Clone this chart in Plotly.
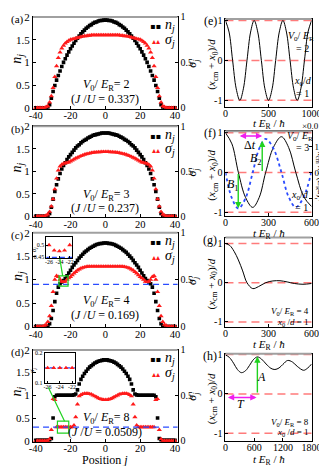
import plotly.graph_objects as go

W, H = 327, 466
FONT = "Liberation Serif, Times New Roman, serif"
SYM_FONT = "DejaVu Sans"
RED = "#ff1a1a"
DASH_RED = "#ff7b7b"
BLUE = "#2a4bff"
GREEN = "#1fd21f"
MAGENTA = "#f01df0"
GRAY = "#a0a0a0"

# lattice sites j = -40 .. 40
J = list(range(-40, 41))

# (a) V0/ER = 2
N_A = [0, 0, 0, 0, 0, 0, 0, 0.01, 0.07, 0.21,
       0.36, 0.49, 0.61, 0.71, 0.81, 0.91, 1.00, 1.08, 1.16, 1.23,
       1.30, 1.36, 1.42, 1.48, 1.53, 1.58, 1.63, 1.67, 1.71, 1.75,
       1.78, 1.81, 1.83, 1.86, 1.88, 1.89, 1.91, 1.92, 1.92, 1.93,
       1.93,
       1.93, 1.92, 1.92, 1.91, 1.89, 1.88, 1.86, 1.83, 1.81, 1.78,
       1.75, 1.71, 1.67, 1.63, 1.58, 1.53, 1.48, 1.42, 1.36, 1.30,
       1.23, 1.16, 1.08, 1.00, 0.91, 0.81, 0.71, 0.61, 0.49, 0.36,
       0.21, 0.07, 0.01, 0, 0, 0, 0, 0, 0, 0]
S_A = [0, 0, 0, 0, 0, 0, 0.01, 0.02, 0.06, 0.13,
       0.22, 0.34, 0.46, 0.55, 0.61, 0.655, 0.685, 0.71, 0.725, 0.74,
       0.75, 0.755, 0.76, 0.765, 0.77, 0.775, 0.78, 0.785, 0.79, 0.79,
       0.795, 0.795, 0.80, 0.80, 0.80, 0.80, 0.80, 0.80, 0.80, 0.80,
       0.80,
       0.80, 0.80, 0.80, 0.80, 0.80, 0.80, 0.80, 0.80, 0.795, 0.795,
       0.79, 0.79, 0.785, 0.78, 0.775, 0.77, 0.765, 0.76, 0.755, 0.75,
       0.74, 0.725, 0.71, 0.685, 0.655, 0.61, 0.55, 0.46, 0.34, 0.22,
       0.13, 0.06, 0.02, 0.01, 0, 0, 0, 0, 0, 0]

# (b) V0/ER = 3
N_B = [0, 0, 0, 0, 0, 0, 0, 0.01, 0.06, 0.20,
       0.38, 0.55, 0.70, 0.83, 0.95, 1.05, 1.13, 1.19, 1.26, 1.32,
       1.37, 1.42, 1.47, 1.52, 1.56, 1.59, 1.63, 1.66, 1.69, 1.71,
       1.74, 1.76, 1.78, 1.80, 1.81, 1.82, 1.83, 1.84, 1.85, 1.85,
       1.85,
       1.85, 1.85, 1.84, 1.83, 1.82, 1.81, 1.80, 1.78, 1.76, 1.74,
       1.71, 1.69, 1.66, 1.63, 1.59, 1.56, 1.52, 1.47, 1.42, 1.37,
       1.32, 1.26, 1.19, 1.13, 1.05, 0.95, 0.83, 0.70, 0.55, 0.38,
       0.20, 0.06, 0.01, 0, 0, 0, 0, 0, 0, 0]
S_B = [0, 0, 0, 0, 0, 0, 0.01, 0.02, 0.05, 0.11,
       0.19, 0.30, 0.42, 0.51, 0.555, 0.575, 0.585, 0.59, 0.595, 0.60,
       0.61, 0.62, 0.632, 0.643, 0.653, 0.662, 0.67, 0.678, 0.685, 0.69,
       0.695, 0.70, 0.704, 0.707, 0.71, 0.712, 0.713, 0.714, 0.715, 0.715,
       0.715,
       0.715, 0.715, 0.714, 0.713, 0.712, 0.71, 0.707, 0.704, 0.70, 0.695,
       0.69, 0.685, 0.678, 0.67, 0.662, 0.653, 0.643, 0.632, 0.62, 0.61,
       0.60, 0.595, 0.59, 0.585, 0.575, 0.555, 0.51, 0.42, 0.30, 0.19,
       0.11, 0.05, 0.02, 0.01, 0, 0, 0, 0, 0, 0]

# (c) V0/ER = 4
N_C = [0, 0, 0, 0, 0, 0, 0, 0.01, 0.06, 0.17,
       0.34, 0.53, 0.71, 0.84, 0.91, 0.95, 0.98, 1.02, 1.08, 1.14,
       1.20, 1.26, 1.31, 1.36, 1.41, 1.46, 1.50, 1.54, 1.58, 1.61,
       1.64, 1.67, 1.69, 1.71, 1.73, 1.75, 1.76, 1.77, 1.77, 1.78,
       1.78,
       1.78, 1.77, 1.77, 1.76, 1.75, 1.73, 1.71, 1.69, 1.67, 1.64,
       1.61, 1.58, 1.54, 1.50, 1.46, 1.41, 1.36, 1.31, 1.26, 1.20,
       1.14, 1.08, 1.02, 0.98, 0.95, 0.91, 0.84, 0.71, 0.53, 0.34,
       0.17, 0.06, 0.01, 0, 0, 0, 0, 0, 0, 0]
S_C = [0, 0, 0, 0, 0, 0.01, 0.02, 0.05, 0.11, 0.22,
       0.37, 0.50, 0.54, 0.53, 0.50, 0.478, 0.475, 0.478, 0.50, 0.515,
       0.53, 0.548, 0.566, 0.583, 0.598, 0.61, 0.62, 0.627, 0.632, 0.636,
       0.638, 0.64, 0.64, 0.64, 0.64, 0.64, 0.64, 0.64, 0.64, 0.64,
       0.64,
       0.64, 0.64, 0.64, 0.64, 0.64, 0.64, 0.64, 0.64, 0.64, 0.638,
       0.636, 0.632, 0.627, 0.62, 0.61, 0.598, 0.583, 0.566, 0.548, 0.53,
       0.515, 0.50, 0.478, 0.475, 0.478, 0.50, 0.53, 0.54, 0.50, 0.37,
       0.22, 0.11, 0.05, 0.02, 0.01, 0, 0, 0, 0, 0]

# (d) V0/ER = 8
N_D = [0.01, 0.01, 0.01, 0.01, 0.01, 0.01, 0.01, 0.01, 0.02, 0.05,
       0.50, 0.97, 1.00, 1.00, 1.00, 1.00, 1.00, 1.00, 1.00, 1.00,
       1.00, 1.00, 1.01, 1.03, 1.12, 1.25, 1.35, 1.42, 1.48, 1.53,
       1.58, 1.62, 1.65, 1.68, 1.71, 1.73, 1.75, 1.76, 1.77, 1.78,
       1.78,
       1.78, 1.77, 1.76, 1.75, 1.73, 1.71, 1.68, 1.65, 1.62, 1.58,
       1.53, 1.48, 1.42, 1.35, 1.25, 1.12, 1.03, 1.01, 1.00, 1.00,
       1.00, 1.00, 1.00, 1.00, 1.00, 1.00, 1.00, 1.00, 0.97, 0.50,
       0.05, 0.02, 0.01, 0.01, 0.01, 0.01, 0.01, 0.01, 0.01, 0.01]
S_D = [0, 0, 0, 0, 0, 0, 0, 0, 0.02, 0.12,
       0.46, 0.45, 0.15, 0.15, 0.15, 0.15, 0.15, 0.15, 0.15, 0.15,
       0.15, 0.15, 0.17, 0.26, 0.40, 0.49, 0.505, 0.515, 0.52, 0.52,
       0.52, 0.515, 0.51, 0.50, 0.49, 0.48, 0.47, 0.46, 0.455, 0.45,
       0.45,
       0.45, 0.455, 0.46, 0.47, 0.48, 0.49, 0.50, 0.51, 0.515, 0.52,
       0.52, 0.52, 0.515, 0.505, 0.49, 0.40, 0.26, 0.17, 0.15, 0.15,
       0.15, 0.15, 0.15, 0.15, 0.15, 0.15, 0.15, 0.15, 0.45, 0.46,
       0.12, 0.02, 0, 0, 0, 0, 0, 0, 0, 0]

# insets: sites inside the green boxes, and the blue reference levels of sigma
INSET_J = [-26, -25, -24, -23, -22]
BLUE_C = 0.45
BLUE_D = 0.15

# (e)-(h) centre-of-mass oscillation
E_T = [0, 42, 83, 125, 167, 208, 250, 292, 333, 375, 417, 458, 500,
       542, 583, 625, 667, 708, 750, 792, 833, 875, 917, 958, 1000]
E_X = [1, 0.71, 0, -0.71, -1, -0.71, 0, 0.71, 1, 0.71, 0, -0.71, -1,
       -0.71, 0, 0.71, 1, 0.71, 0, -0.71, -1, -0.71, 0, 0.71, 1]

F_T = [0, 45, 90, 140, 190, 235, 280, 335, 390, 440, 490, 545, 600]
F_X = [1, 0.72, 0, -0.63, -0.88, -0.63, 0, 0.64, 0.90, 0.63, 0, -0.61, -0.86]
F_V = [0, -1.0, -1.4, -1.0, 0, 0.92, 1.3, 0.92, 0, -0.95, -1.35, -0.95, 0.05]  # x 0.01

G_T = [0, 30, 60, 90, 120, 150, 190, 230, 280, 330, 380, 430, 480, 540, 600]
G_X = [1, 0.95, 0.8, 0.58, 0.3, 0.0, -0.15, -0.1, 0.0, 0.045, 0.05, 0.02, -0.02, -0.04, -0.02]

H_T = [0, 80, 170, 250, 333, 420, 500, 590, 667, 750, 850, 950, 1033,
       1120, 1200, 1300, 1400, 1500, 1633, 1720, 1800]
H_X = [0.99, 0.93, 0.78, 0.62, 0.54, 0.59, 0.72, 0.88, 0.94, 0.89, 0.76, 0.65, 0.62,
       0.66, 0.75, 0.85, 0.81, 0.70, 0.60, 0.66, 0.76]


def fx(p):
    return p / W


def fy(p):
    return 1 - p / H


def name(kind, i):
    return kind if i == 1 else f"{kind}{i}"


def key(kind, i):
    return f"{kind}axis" if i == 1 else f"{kind}axis{i}"


def tickfont(size=11):
    return {"family": FONT, "size": size, "color": "black"}


def ann(x, y, text, size=12, xanchor="center", angle=0, color="black", family=FONT):
    return dict(x=fx(x), y=fy(y), xref="paper", yref="paper", text=text, showarrow=False,
                font={"family": family, "size": size, "color": color},
                xanchor=xanchor, yanchor="middle", textangle=angle)


AXIS = dict(showline=True, linecolor="black", linewidth=1, ticks="inside", ticklen=3,
            tickcolor="black", showgrid=False, zeroline=False)

fig = go.Figure()
layout = {}
annotations = []
shapes = []

# ---- left column: density and fluctuation profiles
LEFT = [
    ("(a)", N_A, S_A, 3, 97, "2", "0.337"),
    ("(b)", N_B, S_B, 115, 208, "3", "0.237"),
    ("(c)", N_C, S_C, 224, 321, "4", "0.169"),
    ("(d)", N_D, S_D, 344, 438, "8", "0.0509"),
]
for i, (tag, n, s, top, bot, v0, ju) in enumerate(LEFT, start=1):
    xn, yn, sn = name("x", i), name("y", i), f"y{i + 8}"
    layout[key("x", i)] = dict(AXIS, domain=[fx(22), fx(173)], range=[-41.5, 41.5], anchor=yn,
                               mirror=True, tickvals=[-40, -20, 0, 20, 40], ticklabelstandoff=-3,
                               ticktext=["-40", "-20", "0", "20", "40"], tickfont=tickfont(10.5))
    layout[key("y", i)] = dict(AXIS, domain=[fy(bot), fy(top)], range=[-0.02, 2.0], anchor=xn,
                               tickvals=[0, 0.5, 1, 1.5, 2], ticktext=["0", "0.5", "1", "1.5", "2"],
                               tickfont=tickfont())
    layout[f"yaxis{i + 8}"] = dict(AXIS, overlaying=yn, anchor=xn, side="right", range=[-0.01, 1.0],
                                   tickvals=[0, 0.5, 1], ticktext=["0", "0.5", "1"], tickfont=tickfont(10))
    fig.add_trace(go.Scatter(x=J, y=s, mode="markers", xaxis=xn, yaxis=sn,
                             marker=dict(symbol="triangle-up", size=4.6, color=RED, line_width=0)))
    fig.add_trace(go.Scatter(x=J, y=n, mode="markers", xaxis=xn, yaxis=yn,
                             marker=dict(symbol="square", size=3.6, color="black", line_width=0)))
    shapes.append(dict(type="line", xref="paper", yref="paper", x0=fx(22), x1=fx(173),
                       y0=fy(top), y1=fy(top), line=dict(color=GRAY, width=2)))
    mid = (top + bot) / 2
    annotations += [
        ann(6, top + 3, tag, 11),
        ann(6, mid - 4, "<i>n<sub>j</sub></i>", 14, angle=-90),
        ann(189, mid, "<i>σ<sub>j</sub></i>", 12, angle=-90),
        ann(150, top + 10, "▪▪", 8, color="black", family=SYM_FONT),
        ann(150, top + 25, "▴▴", 8, color=RED, family=SYM_FONT),
        ann(158, top + 9, "<i>n<sub>j</sub></i>", 14, xanchor="left"),
        ann(158, top + 24, "<i>σ<sub>j</sub></i>", 14, xanchor="left"),
        ann(99, top + 70, f"<i>V</i><sub>0</sub>/ <i>E</i><sub>R</sub>= {v0}", 12),
        ann(97, top + 84, f"(<i>J</i> /<i>U</i> = {ju})", 12),
    ]

annotations.append(ann(97, 457, "Position <i>j</i>", 12))

# blue dashed sigma levels in (c) and (d)
for i, level in ((3, BLUE_C), (4, BLUE_D)):
    shapes.append(dict(type="line", xref=f"x{i} domain", yref=f"y{i + 8}", x0=0, x1=1, y0=level, y1=level,
                       line=dict(color=BLUE, width=1.3, dash="6px,4px")))

# green zoom boxes and leader lines
shapes += [
    dict(type="rect", xref="x3", yref="y3", x0=-26.6, x1=-21.4, y0=0.86, y1=1.08,
         line=dict(color=GREEN, width=1.2)),
    dict(type="line", xref="x3", yref="y3", x0=-26.1, y0=1.44, x1=-24.5, y1=1.08,
         line=dict(color=GREEN, width=1.2)),
    dict(type="rect", xref="x4", yref="y4", x0=-27.5, x1=-21.0, y0=0.17, y1=0.43,
         line=dict(color=GREEN, width=1.2)),
    dict(type="line", xref="x4", yref="y4", x0=-32.7, y0=1.17, x1=-23.4, y1=0.43,
         line=dict(color=GREEN, width=1.2)),
]

# insets
INSETS = [
    (9, 14, S_C, BLUE_C, (36, 63, 228, 250), [0.447, 0.534], [0.45, 0.5], ["0.45", "0.5"]),
    (10, 15, S_D, BLUE_D, (34, 66, 347, 378), [0.1, 0.2], [0.1, 0.2], ["0.1", "0.2"]),
]
for xi, yi, s, level, (l, r, t, b), yr, yt, ytt in INSETS:
    sig = [s[J.index(j)] for j in INSET_J]
    layout[f"xaxis{xi}"] = dict(AXIS, domain=[fx(l), fx(r)], range=[-26.5, -21.5], anchor=f"y{yi}",
                                mirror=True, ticklen=2, tickvals=[-26, -24, -22], ticktext=["-26", "-24", "-22"],
                                tickfont=tickfont(6), linewidth=0.8, ticklabelstandoff=-2)
    layout[f"yaxis{yi}"] = dict(AXIS, domain=[fy(b), fy(t)], range=yr, anchor=f"x{xi}",
                                mirror=True, ticklen=2, tickvals=yt, ticktext=ytt,
                                tickfont=tickfont(6), linewidth=0.8)
    fig.add_trace(go.Scatter(x=[INSET_J[0] - 1, INSET_J[-1] + 1], y=[level, level], mode="lines",
                             xaxis=f"x{xi}", yaxis=f"y{yi}",
                             line=dict(color=BLUE, width=1.3, dash="5px,3px")))
    fig.add_trace(go.Scatter(x=INSET_J, y=sig, mode="markers", xaxis=f"x{xi}", yaxis=f"y{yi}",
                             marker=dict(symbol="triangle-up", size=4.5, color=RED, line_width=0)))
    annotations.append(ann(l - 13, (t + b) / 2 + 3, "<i>σ<sub>j</sub></i>", 7, angle=-90))

# ---- right column: centre-of-mass motion
RIGHT = [
    ("(e)", E_T, E_X, 5, 95, [-1.16, 1.04], [0, 1000], [0, 500, 1000], 18),
    ("(f)", F_T, F_X, 120, 207, [-1.10, 1.04], [0, 600], [0, 300, 600], 18),
    ("(g)", G_T, G_X, 229, 321, [-1.14, 1.15], [0, 600], [0, 300, 600], 18),
    ("(h)", H_T, H_X, 348, 437, [-1.19, 1.02], [0, 1800], [0, 600, 1200, 1800], 20),
]
for k, (tag, t, xv, top, bot, yr, xr, xt, title_gap) in enumerate(RIGHT, start=5):
    xn, yn = f"x{k}", f"y{k}"
    layout[f"xaxis{k}"] = dict(AXIS, domain=[fx(223), fx(313)], range=xr, anchor=yn, mirror=True,
                               tickvals=xt, ticktext=[str(v) for v in xt], tickfont=tickfont(10),
                               ticklabelstandoff=-3)
    layout[f"yaxis{k}"] = dict(AXIS, domain=[fy(bot), fy(top)], range=yr, anchor=xn, mirror=True,
                               tickvals=[-1, 0, 1], ticktext=["-1", "0", "1"], tickfont=tickfont(10))
    for level in (-1, 0, 1):
        shapes.append(dict(type="line", xref=f"x{k} domain", yref=yn, x0=0, x1=1, y0=level, y1=level,
                           layer="below", line=dict(color=DASH_RED, width=1.5, dash="8px,5px")))
    fig.add_trace(go.Scatter(x=t, y=xv, mode="lines", xaxis=xn, yaxis=yn,
                             line=dict(color="black", width=1, shape="spline", smoothing=1.0)))
    shapes.append(dict(type="line", xref="paper", yref="paper", x0=fx(223), x1=fx(313),
                       y0=fy(top), y1=fy(top), line=dict(color=GRAY, width=2)))
    annotations += [
        ann(207, top + 2, tag, 12),
        ann(209, (top + bot) / 2 + 2, "(<i>x</i><sub>cm</sub> + <i>x</i><sub>0</sub>)/<i>d</i>", 11, angle=-90),
        ann(268, bot + title_gap, "<i>t E</i><sub>R</sub> / <i>ħ</i>", 11),
    ]

# velocity on the right axis of (f)
layout["yaxis13"] = dict(AXIS, overlaying="y6", anchor="x6", side="right", range=[-1.695, 1.60],
                         tickvals=[-1, 0, 1], ticktext=["-1", "0", "1"], tickfont=tickfont(9))
fig.add_trace(go.Scatter(x=F_T, y=F_V, mode="lines", xaxis="x6", yaxis="y13",
                         line=dict(color=BLUE, width=1.8, dash="dot", shape="spline", smoothing=1.0)))

annotations += [
    ann(302, 23, "<i>V</i><sub>0</sub>/ <i>E</i><sub>R</sub>", 10),
    ann(304, 35, "= 2", 10),
    ann(304, 69, "<i>x</i><sub>0</sub>/<i>d</i>", 10),
    ann(304, 81, "= 1", 10),
    ann(301, 125, "<i>V</i><sub>0</sub>/ <i>E</i><sub>R</sub>", 10),
    ann(303, 137, "= 3", 10),
    ann(301, 186, "<i>x</i><sub>0</sub>/<i>d</i>", 10),
    ann(302, 198, "= 1", 10),
    ann(312, 305, "<i>V</i><sub>0</sub>/ <i>E</i><sub>R</sub> = 4", 9, xanchor="right"),
    ann(312, 316, "<i>x</i><sub>0</sub> /<i>d</i> = 1", 9, xanchor="right"),
    ann(312, 418, "<i>V</i><sub>0</sub>/ <i>E</i><sub>R</sub> = 8", 9, xanchor="right"),
    ann(312, 429, "<i>x</i><sub>0</sub> /<i>d</i> = 1", 9, xanchor="right"),
    ann(314, 115, "×0.01", 9),
    ann(323, 164, "<i>ẋ</i><sub>cm</sub> <i>ħ</i> / (<i>E</i><sub>R</sub><i>d</i>)", 9, angle=90),
]


def arrow(xr, yr, x, y, ax, ay, color, both=False):
    return dict(xref=xr, yref=yr, axref=xr, ayref=yr, x=x, y=y, ax=ax, ay=ay, text="",
                showarrow=True, arrowhead=2, arrowsize=0.9, arrowwidth=1.4, arrowcolor=color,
                arrowside="end+start" if both else "end")


def label(xr, yr, x, y, text, size=12):
    return dict(xref=xr, yref=yr, x=x, y=y, text=text, showarrow=False,
                font={"family": FONT, "size": size, "color": "black"})


annotations += [
    arrow("x6", "y6", 89, -0.90, 89, 0, GREEN),
    arrow("x6", "y6", 256, 0.80, 256, 0, GREEN),
    arrow("x6", "y6", 256, 0.92, 89, 0.92, MAGENTA, both=True),
    label("x6", "y6", 50, -0.32, "<i>B</i><sub>1</sub>"),
    label("x6", "y6", 215, 0.33, "<i>B</i><sub>2</sub>"),
    label("x6", "y6", 170, 0.70, "Δ<i>t</i>"),
    arrow("x8", "y8", 667, 0.95, 667, 0, GREEN),
    arrow("x8", "y8", 650, -0.09, 20, -0.09, MAGENTA, both=True),
    label("x8", "y8", 760, 0.43, "<i>A</i>"),
    label("x8", "y8", 333, -0.26, "<i>T</i>"),
]

fig.update_layout(
    width=W, height=H, margin=dict(l=0, r=0, t=0, b=0),
    paper_bgcolor="white", plot_bgcolor="white", showlegend=False,
    font=dict(family=FONT, size=11, color="black"),
    annotations=annotations, shapes=shapes, **layout,
)
fig.write_html("out.html", config={"displayModeBar": False})
